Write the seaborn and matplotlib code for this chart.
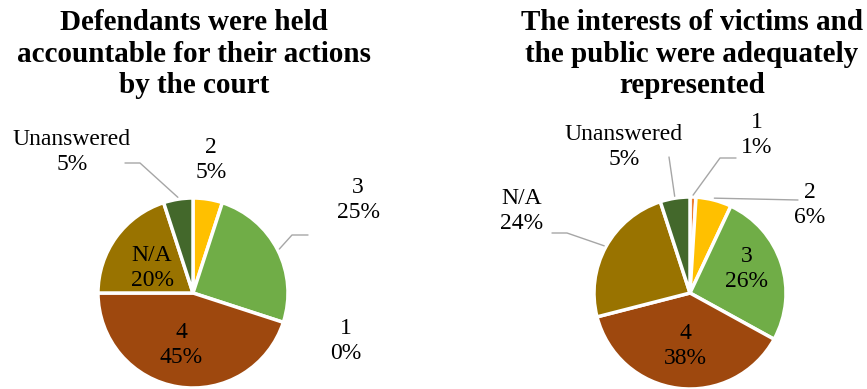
import matplotlib
matplotlib.use("Agg")
import matplotlib.pyplot as plt
import numpy as np
import seaborn as sns

# Survey answers, shared by both questions
categories = ["1", "2", "3", "4", "N/A", "Unanswered"]
accountable_pct = [0, 5, 25, 45, 20, 5]
represented_pct = [1, 6, 26, 38, 24, 5]
titles = [
    "Defendants were held\naccountable for their actions\nby the court",
    "The interests of victims and\nthe public were adequately\nrepresented",
]

sns.set_theme(style="white")
plt.rcParams["font.family"] = ["Liberation Serif", "DejaVu Serif"]
palette = sns.color_palette(["#ED7D31", "#FFC000", "#70AD47", "#9E480E", "#997300", "#43682B"])

W, H = 867, 389
fig = plt.figure(figsize=(W / 100, H / 100), dpi=100)
ax = fig.add_axes([0, 0, 1, 1])


def py(y):
    """Convert a top-down pixel row to the upward data axis."""
    return H - y


# Layout of each pie: centre, radius, title position and label boxes.
# Each label entry: (text centre, leader elbow points from the text side or None)
layouts = [
    dict(center=(193, 293), radius=95, title_xy=(194, 54),
         labels={
             "1": ((346, 341), None),
             "2": ((211, 160), None),
             "3": ((358, 200), [(308, 235), (292, 235)]),
             "4": ((181, 345), None),
             "N/A": ((152, 268), None),
             "Unanswered": ((72, 152), [(125, 163), (140, 163)]),
         }),
    dict(center=(690, 293), radius=96, title_xy=(692, 54),
         labels={
             "1": ((757, 135), [(736, 158), (720, 158)]),
             "2": ((810, 205), [(798, 200)]),
             "3": ((747, 269), None),
             "4": ((685, 346), None),
             "N/A": ((522, 211), [(552, 233), (567, 233)]),
             "Unanswered": ((624, 147), [(669, 157)]),
         }),
]

for values, title, lay in zip([accountable_pct, represented_pct], titles, layouts):
    cx, cy = lay["center"]
    r = lay["radius"]
    wedges, _ = ax.pie(
        values, colors=palette, startangle=90, counterclock=False,
        center=(cx, py(cy)), radius=r,
        wedgeprops=dict(edgecolor="white", linewidth=2.5),
    )
    tx, ty = lay["title_xy"]
    ax.text(tx, py(ty), title, ha="center", va="center", fontsize=21,
            fontweight="bold", linespacing=1.22, color="black")

    for cat, v, w in zip(categories, values, wedges):
        (lx, ly), elbow = lay["labels"][cat]
        ax.text(lx, py(ly), f"{cat}\n{v}%", ha="center", va="center",
                fontsize=17, linespacing=1.22, color="black", zorder=5)
        if elbow:
            mid = np.deg2rad((w.theta1 + w.theta2) / 2)
            ex = cx + r * 1.02 * np.cos(mid)
            ey = py(cy) + r * 1.02 * np.sin(mid)
            xs = [p[0] for p in elbow] + [ex]
            ys = [py(p[1]) for p in elbow] + [ey]
            ax.plot(xs, ys, color="#A6A6A6", linewidth=1.0, zorder=4)

ax.set_xlim(0, W)
ax.set_ylim(0, H)
ax.set_aspect("auto")
ax.axis("off")

fig.savefig("out.png", dpi=100, facecolor="white")
